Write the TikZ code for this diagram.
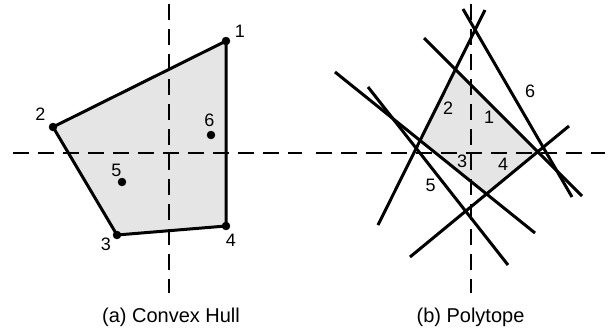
\documentclass[tikz,border=0pt]{standalone}
\usepackage{fontspec}
\setmainfont{Liberation Sans}
\usetikzlibrary{positioning}

\tikzset{
  axis/.style={line width=1.8pt, dash pattern=on 16pt off 9pt},
  edge/.style={line width=3pt},
  num/.style={font=\fontsize{18}{20}\selectfont, inner sep=0pt},
  caption/.style={font=\fontsize{20}{22}\selectfont, anchor=base, inner sep=0pt},
}

\begin{document}
\begin{tikzpicture}[x=1pt,y=-1pt]
\useasboundingbox (0,0) rectangle (610,333);

% (a) convex hull
\coordinate (h1) at (226,41);
\coordinate (h2) at (53,127);
\coordinate (h3) at (117,235);
\coordinate (h4) at (226,226);
\coordinate (h5) at (122,182);
\coordinate (h6) at (211,135);

\fill[gray!20] (h1) -- (h2) -- (h3) -- (h4) -- cycle;

\coordinate (ax1) at (169,4);
\coordinate (ax2) at (169,293);
\coordinate (ay1) at (13,153);
\coordinate (ay2) at (302,153);
\draw[axis] (ax1) -- (ax2);
\draw[axis] (ay1) -- (ay2);

\draw[edge, line join=round] (h1) -- (h2) -- (h3) -- (h4) -- cycle;

\foreach \p in {h1,h2,h3,h4,h5,h6}
  \filldraw (\p) circle (4pt);

\node[num] (t1) at (240,31) {1};
\node[num] (t2) at (40.5,114) {2};
\node[num] (t3) at (106,244) {3};
\node[num] (t4) at (231,240) {4};
\node[num] (t5) at (116.5,170) {5};
\node[num] (t6) at (209.5,120) {6};

\node[caption] (capa) at (171,322) {(a) Convex Hull};

% (b) polytope
\coordinate (l1a) at (424,38);  \coordinate (l1b) at (582,196);
\coordinate (l2a) at (485,10);  \coordinate (l2b) at (378,225);
\coordinate (l3a) at (335,72);  \coordinate (l3b) at (535,233);
\coordinate (l4a) at (410,257); \coordinate (l4b) at (569,126);
\coordinate (l5a) at (368,87);  \coordinate (l5b) at (508,265);
\coordinate (l6a) at (463,9);   \coordinate (l6b) at (572,197);

\coordinate (top) at (intersection of l1a--l1b and l2a--l2b);
\coordinate (left) at (intersection of l2a--l2b and l3a--l3b);
\coordinate (bot) at (intersection of l3a--l3b and l4a--l4b);
\coordinate (right) at (intersection of l4a--l4b and l1a--l1b);

\fill[gray!20] (top) -- (right) -- (bot) -- (left) -- cycle;

\coordinate (bx1) at (471,4);
\coordinate (bx2) at (471,293);
\coordinate (by1) at (316,153);
\coordinate (by2) at (605,153);
\draw[axis] (bx1) -- (bx2);
\draw[axis] (by1) -- (by2);

\foreach \i in {1,...,6}
  \draw[edge] (l\i a) -- (l\i b);

\node[num] (n1) at (489,117) {1};
\node[num] (n2) at (448,108.5) {2};
\node[num] (n3) at (462,161.5) {3};
\node[num] (n4) at (503,164.5) {4};
\node[num] (n5) at (430.5,185.5) {5};
\node[num] (n6) at (530,91) {6};

\node[caption] (capb) at (470.5,322) {(b) Polytope};

\end{tikzpicture}
\end{document}
